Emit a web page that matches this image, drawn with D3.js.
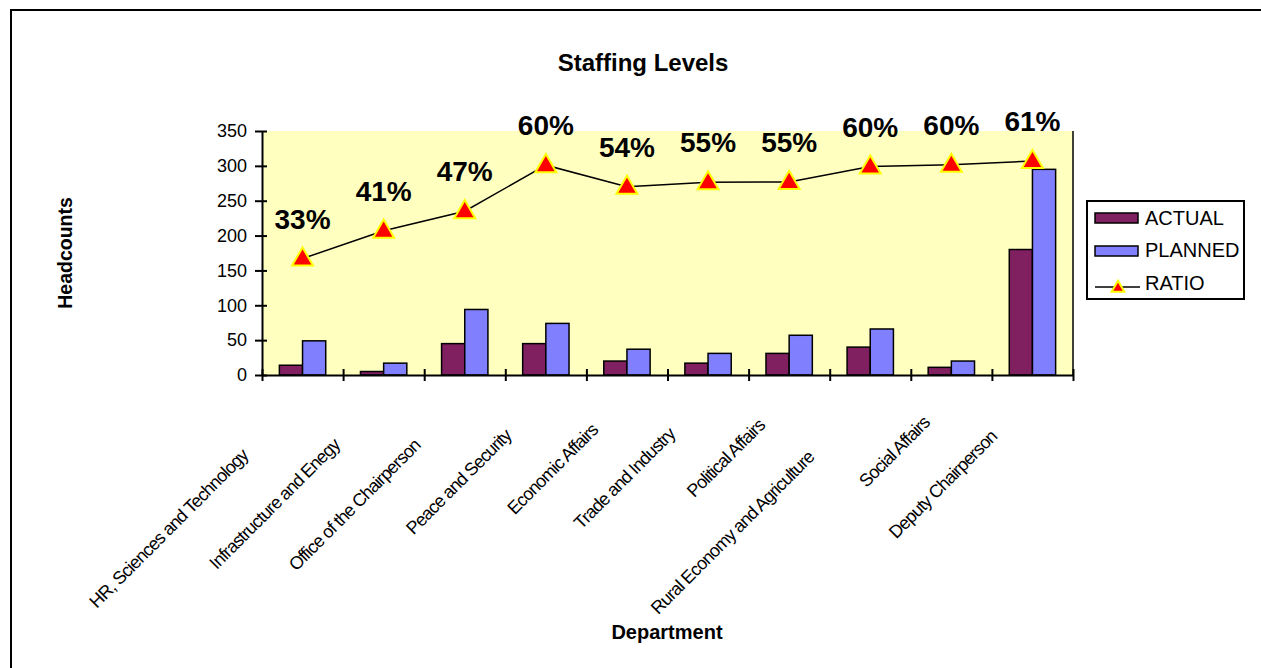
<!DOCTYPE html>
<html lang="en">
<head>
    <meta charset="UTF-8">
    <title>Staffing Levels</title>
    <script src="https://d3js.org/d3.v7.min.js"></script>
    <style>
        body { margin: 0; background: #fff; overflow: hidden; }
        text { font-family: "Liberation Sans", Arial, sans-serif; fill: #000; }
    </style>
</head>
<body>
    <div id="plot"></div>

    <script>
        // Data
        const departments = [
            'HR, Sciences and Technology', 'Infrastructure and Enegy', 'Office of the Chairperson',
            'Peace and Security', 'Economic Affairs', 'Trade and Industry', 'Political Affairs',
            'Rural Economy and Agriculture', 'Social Affairs', 'Deputy Chairperson'
        ];
        const actual  = [14, 5, 45, 45, 20, 17, 31, 40, 11, 180];
        const planned = [49, 17, 94, 74, 37, 31, 57, 66, 20, 295];
        const ratio   = [0.334, 0.414, 0.47, 0.602, 0.54, 0.553, 0.554, 0.598, 0.603, 0.614];
        const yTicks  = [0, 50, 100, 150, 200, 250, 300, 350];
        const seriesNames = ['ACTUAL', 'PLANNED'];

        const width = 1261;
        const height = 668;
        const plot = { left: 262, right: 1073, top: 131, bottom: 375 };
        const colors = { ACTUAL: '#802060', PLANNED: '#8080ff' };

        const svg = d3.select('#plot')
            .append('svg')
            .attr('width', width)
            .attr('height', height)
            .style('display', 'block');

        // outer chart border: only top and left edges are inside the picture
        svg.append('path')
            .attr('d', d3.line()([[11, height], [11, 10], [width, 10]]))
            .attr('fill', 'none')
            .attr('stroke', '#000')
            .attr('stroke-width', 2);

        // scales
        const xScale = d3.scaleBand()
            .domain(departments)
            .range([plot.left, plot.right]);

        const xSub = d3.scaleBand()
            .domain(seriesNames)
            .range([0, xScale.bandwidth()])
            .paddingOuter(0.75);

        const xEdges = d3.scaleLinear()
            .domain([0, departments.length])
            .range([plot.left, plot.right]);

        const yScale = d3.scaleLinear()
            .domain([0, 350])
            .range([plot.bottom, plot.top]);

        const yRatio = d3.scaleLinear()
            .domain([0, 0.7])
            .range([plot.bottom, plot.top]);

        // plot area background
        svg.append('rect')
            .attr('x', plot.left)
            .attr('y', plot.top)
            .attr('width', plot.right - plot.left)
            .attr('height', plot.bottom - plot.top)
            .attr('fill', '#ffffc0');

        // bars
        const groups = svg.append('g')
            .selectAll('g')
            .data(departments)
            .join('g')
            .attr('transform', d => `translate(${xScale(d)},0)`);

        groups.selectAll('rect')
            .data((d, i) => [
                { key: 'ACTUAL', value: actual[i] },
                { key: 'PLANNED', value: planned[i] }
            ])
            .join('rect')
            .attr('x', d => xSub(d.key))
            .attr('y', d => yScale(d.value))
            .attr('width', xSub.bandwidth())
            .attr('height', d => yScale(0) - yScale(d.value))
            .attr('fill', d => colors[d.key])
            .attr('stroke', '#000')
            .attr('stroke-width', 1.5);

        // y axis (cross ticks)
        const yAxis = svg.append('g')
            .attr('transform', `translate(${plot.left},0)`)
            .call(d3.axisLeft(yScale).tickValues(yTicks).tickSizeInner(7).tickSizeOuter(0).tickPadding(8));
        yAxis.select('.domain').attr('stroke', '#000').attr('stroke-width', 2);
        yAxis.selectAll('.tick line').attr('x1', 5).attr('stroke-width', 2);
        yAxis.selectAll('.tick text')
            .style('font-family', '"Liberation Sans", Arial, sans-serif')
            .style('font-size', '18px');

        // x axis (category boundary ticks)
        const xAxis = svg.append('g')
            .attr('transform', `translate(0,${plot.bottom})`)
            .call(d3.axisBottom(xEdges).tickValues(d3.range(departments.length + 1)).tickFormat('').tickSizeInner(6).tickSizeOuter(0));
        xAxis.select('.domain').attr('stroke', '#000').attr('stroke-width', 2);
        xAxis.selectAll('.tick line').attr('y1', -6).attr('stroke-width', 2);

        // right axis line
        svg.append('line')
            .attr('x1', plot.right).attr('x2', plot.right)
            .attr('y1', yScale(350)).attr('y2', yScale(0))
            .attr('stroke', '#000')
            .attr('stroke-width', 1.5);

        // category labels, rotated
        const catLabels = svg.append('g')
            .selectAll('g')
            .data(departments)
            .join('g')
            .attr('transform', d => `translate(${xScale(d) + xScale.bandwidth() / 2},${plot.bottom}) rotate(-45)`);

        catLabels.append('text')
            .attr('text-anchor', 'end')
            .attr('y', 20)
            .style('font-size', '18px')
            .style('letter-spacing', '-0.9px')
            .text(d => d)
            .each(function () {
                const len = this.getComputedTextLength();
                d3.select(this).attr('x', -(15 + 0.373 * len));
            });

        // ratio line
        const lineRatio = d3.line()
            .x((d, i) => xScale(departments[i]) + xScale.bandwidth() / 2)
            .y(d => yRatio(d));

        svg.append('path')
            .datum(ratio)
            .attr('fill', 'none')
            .attr('stroke', '#000')
            .attr('stroke-width', 1.5)
            .attr('d', lineRatio);

        const triangle = d3.symbol().type(d3.symbolTriangle).size(190);

        svg.append('g')
            .selectAll('path')
            .data(ratio)
            .join('path')
            .attr('transform', (d, i) => `translate(${xScale(departments[i]) + xScale.bandwidth() / 2},${yRatio(d) + 1})`)
            .attr('d', triangle)
            .attr('fill', '#ff0000')
            .attr('stroke', '#ffff00')
            .attr('stroke-width', 2);

        // ratio data labels
        svg.append('g')
            .selectAll('text')
            .data(ratio)
            .join('text')
            .attr('x', (d, i) => xScale(departments[i]) + xScale.bandwidth() / 2)
            .attr('y', d => yRatio(d) - 30)
            .attr('text-anchor', 'middle')
            .style('font-size', '28px')
            .style('font-weight', 'bold')
            .text(d => d3.format('.0%')(d));

        // titles
        svg.append('text')
            .attr('x', 643).attr('y', 71)
            .attr('text-anchor', 'middle')
            .style('font-size', '24px')
            .style('font-weight', 'bold')
            .text('Staffing Levels');

        svg.append('text')
            .attr('transform', 'translate(72,253) rotate(-90)')
            .attr('text-anchor', 'middle')
            .style('font-size', '19.5px')
            .style('font-weight', 'bold')
            .text('Headcounts');

        svg.append('text')
            .attr('x', 667).attr('y', 639)
            .attr('text-anchor', 'middle')
            .style('font-size', '20px')
            .style('font-weight', 'bold')
            .text('Department');

        // legend
        const legend = svg.append('g').attr('transform', 'translate(1087,201)');
        legend.append('rect')
            .attr('width', 157).attr('height', 98)
            .attr('fill', '#fff')
            .attr('stroke', '#000')
            .attr('stroke-width', 2);

        seriesNames.forEach((name, i) => {
            legend.append('rect')
                .attr('x', 8).attr('y', 12 + i * 33)
                .attr('width', 43).attr('height', 10)
                .attr('fill', colors[name])
                .attr('stroke', '#000')
                .attr('stroke-width', 1.5);
            legend.append('text')
                .attr('x', 58).attr('y', 24 + i * 32)
                .style('font-size', '20px')
                .text(name);
        });

        legend.append('line')
            .attr('x1', 8).attr('x2', 53)
            .attr('y1', 86).attr('y2', 86)
            .attr('stroke', '#000')
            .attr('stroke-width', 1.5);
        legend.append('path')
            .attr('transform', 'translate(31,87)')
            .attr('d', d3.symbol().type(d3.symbolTriangle).size(70))
            .attr('fill', '#ff0000')
            .attr('stroke', '#ffff00')
            .attr('stroke-width', 2);
        legend.append('text')
            .attr('x', 58).attr('y', 89)
            .style('font-size', '20px')
            .text('RATIO');
    </script>
</body>
</html>
